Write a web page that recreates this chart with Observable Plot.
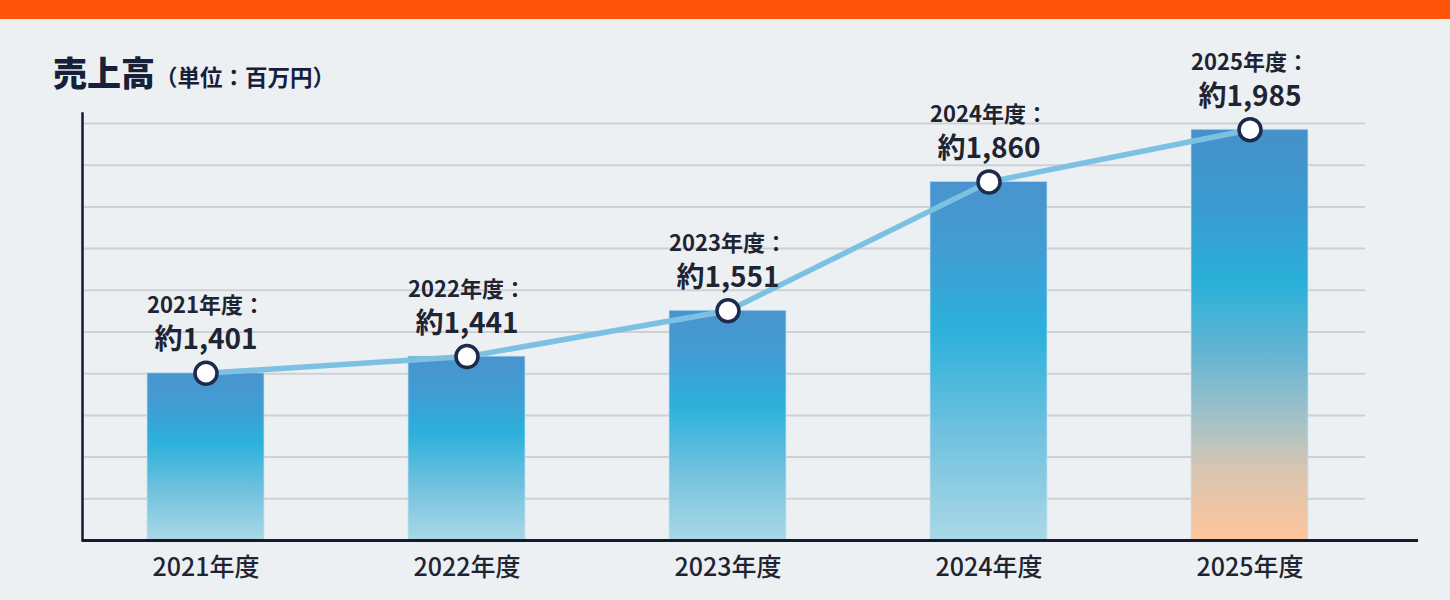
<!DOCTYPE html>
<html>
<head>
<meta charset="utf-8">
<script src="https://cdn.jsdelivr.net/npm/d3@7"></script>
<script src="https://cdn.jsdelivr.net/npm/@observablehq/plot@0.6"></script>
<style>
  html, body { margin: 0; padding: 0; background: #edf0f2; }
  body { width: 1450px; height: 600px; overflow: hidden; position: relative; font-family: "Noto Sans CJK JP", "Noto Sans", sans-serif; }
  #band { height: 19px; background: #ff550b; }
  #title { position: absolute; left: 53px; top: 55px; color: #16203a; white-space: nowrap; line-height: 1; }
  #title .main { font-size: 34px; font-weight: 900; }
  #title .unit { font-size: 22.5px; font-weight: 700; }
  #chart { position: absolute; left: 0; top: 19px; }
</style>
</head>
<body>
<div id="band"></div>
<div id="title"><span class="main">売上高</span><span class="unit">（単位：百万円）</span></div>
<div id="chart"></div>
<script>
// ---- data ----
const years = ["2021年度", "2022年度", "2023年度", "2024年度", "2025年度"];
const sales = [1401, 1441, 1551, 1860, 1985];
const valueLabels = ["約1,401", "約1,441", "約1,551", "約1,860", "約1,985"];
const headLabels = ["2021年度：", "2022年度：", "2023年度：", "2024年度：", "2025年度："];
const gridTicks = [1100, 1200, 1300, 1400, 1500, 1600, 1700, 1800, 1900, 2000];
const highlightYear = "2025年度";

const rows = years.map((y, i) => ({year: y, value: sales[i], head: headLabels[i], label: valueLabels[i]}));
const blueRows = rows.filter(d => d.year !== highlightYear);
const peachRows = rows.filter(d => d.year === highlightYear);

const font = "'Noto Sans CJK JP', 'Noto Sans', sans-serif";
const ink = "#1f2433";

const chart = Plot.plot({
  width: 1450,
  height: 581,
  marginLeft: 82,
  marginRight: 32,
  marginTop: 94,
  marginBottom: 60,
  style: {background: "transparent", fontFamily: font, overflow: "visible"},
  x: {domain: years, range: [3, 1452], padding: 0.5517, axis: null},
  y: {domain: [1000, 2000], range: [521, 104], axis: null},
  marks: [
    Plot.ruleY(gridTicks, {stroke: "#cdd1d6", strokeWidth: 2, insetRight: 53}),
    Plot.barY(blueRows, {x: "year", y1: 1000, y2: "value", fill: "url(#gradBlue)", stroke: "#c4e7f3", strokeWidth: 1, strokeOpacity: 0.7}),
    Plot.barY(peachRows, {x: "year", y1: 1000, y2: "value", fill: "url(#gradPeach)", stroke: "#c4e7f3", strokeWidth: 1, strokeOpacity: 0.7}),
    Plot.line(rows, {x: "year", y: "value", stroke: "#7cc1e2", strokeWidth: 5.5, strokeLinecap: "round"}),
    Plot.dot(rows, {x: "year", y: "value", r: 11, fill: "white", stroke: "#1c2b4c", strokeWidth: 3.5}),
    Plot.text(rows, {x: "year", y: "value", text: "head", dy: -67, fontSize: 22, fontWeight: 700, fill: ink, lineAnchor: "middle"}),
    Plot.text(rows, {x: "year", y: "value", text: "label", dy: -33, fontSize: 28, fontWeight: 700, fill: ink, lineAnchor: "middle"}),
    Plot.text(rows, {x: "year", y: 1000, text: "year", dy: 27, fontSize: 25, fontWeight: 500, fill: ink, lineAnchor: "middle"}),
    Plot.frame({anchor: "left", stroke: "#141a30", strokeWidth: 2.5}),
    Plot.ruleY([1000], {stroke: "#141a30", strokeWidth: 3})
  ]
});

// gradients for bars
const ns = "http://www.w3.org/2000/svg";
const defs = document.createElementNS(ns, "defs");
function grad(id, stops) {
  const g = document.createElementNS(ns, "linearGradient");
  g.setAttribute("id", id);
  g.setAttribute("x1", "0"); g.setAttribute("y1", "0");
  g.setAttribute("x2", "0"); g.setAttribute("y2", "1");
  for (const [o, c] of stops) {
    const s = document.createElementNS(ns, "stop");
    s.setAttribute("offset", o);
    s.setAttribute("stop-color", c);
    g.appendChild(s);
  }
  defs.appendChild(g);
}
grad("gradBlue", [[0, "#4a94ce"], [0.2, "#409dd3"], [0.42, "#2cb1db"], [0.7, "#70c1de"], [1, "#aad8e6"]]);
grad("gradPeach", [[0, "#4690ca"], [0.2, "#399cd1"], [0.37, "#29b0d9"], [0.55, "#66b5d3"], [0.71, "#a4c2c6"], [0.83, "#d9c6b1"], [1, "#ffc49c"]]);
chart.insertBefore(defs, chart.firstChild);

document.getElementById("chart").appendChild(chart);
</script>
</body>
</html>
